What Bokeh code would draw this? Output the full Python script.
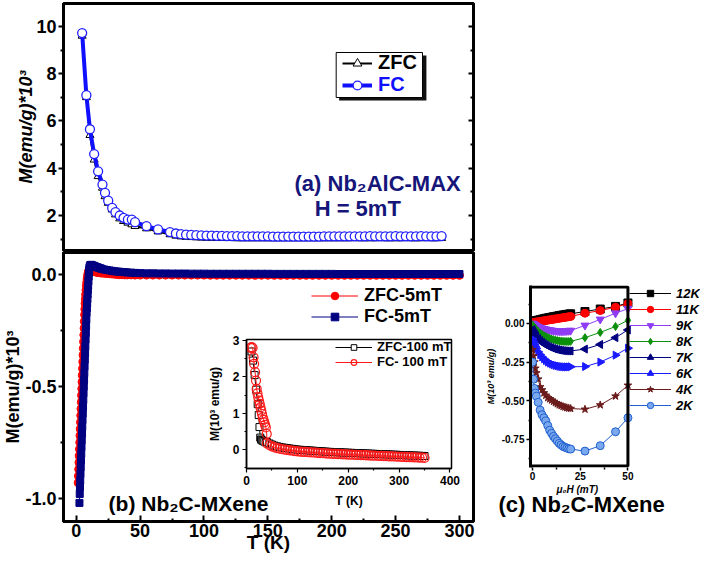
import numpy as np
from bokeh.plotting import figure
from bokeh.layouts import row, column
from bokeh.models import (Range1d, LinearAxis, FixedTicker, PrintfTickFormatter,
                          Legend, LegendItem, Label, BoxAnnotation, Title)
from bokeh.embed import file_html
from bokeh.resources import INLINE

FONT = "Liberation Sans"

# ---------------- data: panel (a) Nb2AlC-MAX, H = 5 mT ----------------
T_A = [4.6, 7.9, 10.7, 14.0, 17.1, 20.5, 22.5, 25.0, 28.1, 30.7,
       34.0, 37.0, 40.4, 43.5, 46.0, 55.0, 64.0, 73.4,
       78, 82, 86, 90, 94, 98, 102, 106, 110, 114,
       118, 122, 126, 130, 134, 138, 142, 146, 150, 154,
       158, 162, 166, 170, 174, 178, 182, 186, 190, 194,
       198, 202, 206, 210, 214, 218, 222, 226, 230, 234,
       238, 242, 246, 250, 254, 258, 262, 266, 270, 274,
       278, 282, 286]
FC_A = [9.72, 7.09, 5.65, 4.60, 3.87, 3.31, 2.96, 2.63, 2.32, 2.14,
        2.00, 1.90, 1.83, 1.83, 1.72, 1.55, 1.41, 1.30,
        1.24, 1.21, 1.19, 1.18, 1.17, 1.16, 1.15, 1.15, 1.14, 1.14,
        1.13, 1.13, 1.13, 1.12, 1.12, 1.12, 1.12, 1.12, 1.12, 1.11,
        1.11, 1.11, 1.11, 1.11, 1.11, 1.11, 1.11, 1.11, 1.11, 1.12,
        1.12, 1.12, 1.12, 1.12, 1.12, 1.12, 1.12, 1.12, 1.13, 1.12,
        1.12, 1.12, 1.12, 1.13, 1.12, 1.12, 1.12, 1.12, 1.13, 1.12,
        1.12, 1.12, 1.13]
ZFC_A = [9.60, 7.00, 5.40, 4.36, 3.66, 3.17, 2.81, 2.53, 2.25, 2.04,
         1.87, 1.76, 1.69, 1.62, 1.55, 1.45, 1.32, 1.20,
         1.14, 1.11, 1.09, 1.08, 1.07, 1.06, 1.05, 1.05, 1.04, 1.04,
         1.04, 1.04, 1.03, 1.03, 1.03, 1.03, 1.03, 1.03, 1.03, 1.03,
         1.03, 1.03, 1.03, 1.03, 1.03, 1.03, 1.03, 1.03, 1.03, 1.03,
         1.03, 1.03, 1.03, 1.03, 1.03, 1.04, 1.03, 1.03, 1.03, 1.03,
         1.04, 1.03, 1.03, 1.03, 1.03, 1.04, 1.03, 1.03, 1.03, 1.04,
         1.03, 1.03, 1.04]

# ---------------- data: panel (b) Nb2C-MXene, 5 mT ----------------
T_B_FC = [2.5, 2.7, 2.9, 3.1, 3.3, 3.5, 3.7, 3.9, 4.1, 4.3,
          4.5, 4.7, 4.9, 5.1, 5.3, 5.5, 5.7, 5.9, 6.1, 6.3,
          6.5, 6.7, 6.9, 7.1, 7.3, 7.5, 7.7, 7.9, 8.1, 8.3,
          8.5, 8.7, 8.9, 9.1, 9.3, 9.5, 9.7, 9.9, 10.1, 10.3,
          10.6, 11.0, 11.5, 12, 13, 14, 15, 16, 17, 18,
          19, 20, 22, 24, 26, 28, 30, 32, 34, 36,
          38, 40, 43, 46, 50]
M_B_FC = [-1.02, -0.98, -0.95, -0.92, -0.89, -0.86, -0.83, -0.80, -0.77, -0.74,
          -0.71, -0.68, -0.65, -0.62, -0.59, -0.56, -0.53, -0.50, -0.47, -0.44,
          -0.41, -0.38, -0.35, -0.32, -0.29, -0.26, -0.23, -0.20, -0.17, -0.15,
          -0.13, -0.11, -0.09, -0.07, -0.05, -0.03, -0.01, 0.005, 0.02, 0.03,
          0.038, 0.042, 0.043, 0.042, 0.040, 0.038, 0.035, 0.033, 0.031, 0.029,
          0.027, 0.025, 0.022, 0.020, 0.018, 0.016, 0.014, 0.013, 0.012, 0.011,
          0.010, 0.009, 0.008, 0.007, 0.006]
T_B_ZFC = [1.5, 1.7, 1.9, 2.1, 2.3, 2.5, 2.7, 2.9, 3.1, 3.3,
           3.5, 3.7, 3.9, 4.1, 4.3, 4.5, 4.7, 4.9, 5.1, 5.3,
           5.5, 5.7, 5.9, 6.1, 6.3, 6.5, 6.7, 6.9, 7.1, 7.3,
           7.6, 7.9, 8.2, 8.5, 8.8, 9.1, 9.4, 9.7, 10.1, 10.5,
           11.0, 11.6, 12.5, 13.5, 15, 16, 17, 18, 19, 20,
           22, 24, 26, 28, 30, 32, 34, 36, 38, 40,
           43, 46, 50]
M_B_ZFC = [-0.93, -0.90, -0.87, -0.84, -0.81, -0.78, -0.75, -0.72, -0.69, -0.66,
           -0.63, -0.60, -0.57, -0.54, -0.51, -0.48, -0.45, -0.42, -0.39, -0.36,
           -0.33, -0.30, -0.27, -0.24, -0.21, -0.18, -0.155, -0.13, -0.11, -0.09,
           -0.07, -0.05, -0.035, -0.02, -0.008, 0.002, 0.010, 0.015, 0.018, 0.019,
           0.018, 0.016, 0.015, 0.013, 0.011, 0.010, 0.009, 0.008, 0.007, 0.006,
           0.005, 0.004, 0.003, 0.002, 0.001, 0.000, -0.001, -0.001, -0.002, -0.002,
           -0.002, -0.003, -0.003]
T_B_TAIL = [55, 60, 65, 70, 75, 80, 85, 90, 95, 100,
            105, 110, 115, 120, 125, 130, 135, 140, 145, 150,
            155, 160, 165, 170, 175, 180, 185, 190, 195, 200,
            205, 210, 215, 220, 225, 230, 235, 240, 245, 250,
            255, 260, 265, 270, 275, 280, 285, 290, 295, 300]
M_B_FC_TAIL = [0.005, 0.005, 0.0045, 0.0045, 0.004, 0.004, 0.004, 0.0035, 0.0035, 0.0035,
               0.003, 0.003, 0.003, 0.003, 0.003, 0.003, 0.003, 0.003, 0.003, 0.003,
               0.0025, 0.0025, 0.0025, 0.0025, 0.0025, 0.0025, 0.0025, 0.0025, 0.0025, 0.0025,
               0.002, 0.002, 0.002, 0.002, 0.002, 0.002, 0.002, 0.002, 0.002, 0.002,
               0.002, 0.002, 0.002, 0.002, 0.002, 0.002, 0.002, 0.002, 0.002, 0.002]
M_B_ZFC_TAIL = [-0.003, -0.003, -0.003, -0.003, -0.003, -0.003, -0.003, -0.003, -0.003, -0.003,
                -0.0035, -0.0035, -0.0035, -0.0035, -0.0035, -0.0035, -0.0035, -0.0035, -0.0035, -0.0035,
                -0.004, -0.004, -0.004, -0.004, -0.004, -0.004, -0.004, -0.004, -0.004, -0.004,
                -0.004, -0.004, -0.004, -0.004, -0.004, -0.004, -0.004, -0.004, -0.004, -0.004,
                -0.004, -0.004, -0.004, -0.004, -0.004, -0.004, -0.004, -0.004, -0.004, -0.004]

# ---------------- data: inset of (b), 100 mT ----------------
T_IN_FC_LOW = [8, 10, 12, 13.9, 15, 16.9, 18.7, 20, 21.5, 23,
               24.5, 26, 27.5, 29, 30.5, 32, 33.5, 35, 36.5, 38, 39.8]
M_IN_FC_LOW = [2.80, 2.82, 2.80, 2.54, 2.36, 2.13, 1.90, 1.67, 1.55, 1.44,
               1.35, 1.26, 1.16, 1.07, 0.98, 0.89, 0.82, 0.75, 0.68, 0.61, 0.43]
T_IN_ZFC_LOW = [10, 13, 16, 19, 22, 24, 25.5, 27, 28.5, 30, 32, 35, 38]
M_IN_ZFC_LOW = [2.70, 2.45, 2.05, 1.65, 1.25, 0.95, 0.62, 0.33, 0.28, 0.26, 0.24, 0.22, 0.20]
T_IN_TAIL = [40, 45, 50, 55, 60, 65, 70, 75, 80, 85,
             90, 95, 100, 105, 110, 115, 120, 125, 130, 135,
             140, 145, 150, 155, 160, 165, 170, 175, 180, 185,
             190, 195, 200, 205, 210, 215, 220, 225, 230, 235,
             240, 245, 250, 255, 260, 265, 270, 275, 280, 285,
             290, 295, 300, 305, 310, 315, 320, 325, 330, 335,
             340, 345, 350]
M_IN_FC_TAIL = [0.17, 0.12, 0.09, 0.06, 0.04, 0.025, 0.01, 0.0, -0.01, -0.02,
                -0.03, -0.04, -0.05, -0.055, -0.06, -0.065, -0.07, -0.075, -0.08, -0.085,
                -0.09, -0.095, -0.10, -0.105, -0.11, -0.113, -0.116, -0.12, -0.123, -0.126,
                -0.13, -0.133, -0.136, -0.139, -0.142, -0.145, -0.148, -0.151, -0.154, -0.157,
                -0.16, -0.163, -0.166, -0.169, -0.172, -0.175, -0.178, -0.181, -0.184, -0.187,
                -0.19, -0.193, -0.196, -0.199, -0.202, -0.205, -0.208, -0.211, -0.214, -0.217,
                -0.22, -0.223, -0.226]
M_IN_ZFC_TAIL = [0.21, 0.17, 0.14, 0.11, 0.09, 0.075, 0.06, 0.05, 0.04, 0.03,
                 0.02, 0.01, 0.0, -0.005, -0.01, -0.015, -0.02, -0.025, -0.03, -0.035,
                 -0.04, -0.045, -0.05, -0.055, -0.06, -0.063, -0.066, -0.07, -0.073, -0.076,
                 -0.08, -0.083, -0.086, -0.089, -0.092, -0.095, -0.098, -0.101, -0.104, -0.107,
                 -0.11, -0.113, -0.116, -0.119, -0.122, -0.125, -0.128, -0.131, -0.134, -0.137,
                 -0.14, -0.143, -0.146, -0.149, -0.152, -0.155, -0.158, -0.161, -0.164, -0.167,
                 -0.17, -0.173, -0.176]

# ---------------- data: panel (c) M(H) ----------------
H_C = [0, 0.5, 1, 1.5, 2, 3, 4, 5, 6, 7, 8, 9, 10, 11, 12, 13, 14, 15, 16, 17, 18, 19, 20,
       27.5, 35.5, 43.5, 50]
M_12K = [0.010, 0.012, 0.014, 0.016, 0.018, 0.021, 0.024, 0.027, 0.030, 0.033, 0.035, 0.038,
         0.040, 0.043, 0.045, 0.047, 0.050, 0.052, 0.054, 0.056, 0.058, 0.060, 0.062,
         0.077, 0.093, 0.110, 0.132]
M_11K = [0.005, 0.006, 0.007, 0.008, 0.009, 0.011, 0.013, 0.015, 0.017, 0.019, 0.021, 0.023,
         0.025, 0.027, 0.029, 0.031, 0.033, 0.035, 0.037, 0.039, 0.041, 0.043, 0.045,
         0.066, 0.083, 0.104, 0.128]
M_9K = [0.000, -0.004, -0.008, -0.012, -0.016, -0.022, -0.027, -0.031, -0.035, -0.038, -0.041,
        -0.043, -0.045, -0.047, -0.048, -0.049, -0.050, -0.050, -0.050, -0.049, -0.048, -0.047,
        -0.046, -0.013, 0.026, 0.066, 0.095]
M_8K = [-0.010, -0.018, -0.026, -0.033, -0.040, -0.052, -0.062, -0.071, -0.079, -0.086, -0.092,
        -0.097, -0.101, -0.105, -0.108, -0.111, -0.113, -0.115, -0.116, -0.117, -0.117, -0.117,
        -0.116, -0.092, -0.058, -0.020, 0.020]
M_7K = [-0.040, -0.052, -0.063, -0.073, -0.082, -0.097, -0.110, -0.121, -0.131, -0.139, -0.146,
        -0.152, -0.157, -0.162, -0.166, -0.169, -0.172, -0.174, -0.176, -0.177, -0.178, -0.178,
        -0.178, -0.166, -0.136, -0.092, -0.042]
M_6K = [-0.100, -0.118, -0.134, -0.149, -0.162, -0.184, -0.202, -0.217, -0.229, -0.240, -0.249,
        -0.256, -0.262, -0.267, -0.271, -0.274, -0.277, -0.279, -0.280, -0.281, -0.281, -0.281,
        -0.280, -0.279, -0.250, -0.205, -0.160]
M_4K = [-0.170, -0.210, -0.250, -0.290, -0.320, -0.360, -0.410, -0.430, -0.450, -0.465, -0.480,
        -0.488, -0.496, -0.505, -0.513, -0.520, -0.527, -0.532, -0.537, -0.541, -0.545, -0.548,
        -0.550, -0.555, -0.527, -0.470, -0.400]
M_2K = [-0.250, -0.360, -0.420, -0.450, -0.470, -0.510, -0.560, -0.590, -0.610, -0.630, -0.660,
        -0.690, -0.710, -0.730, -0.745, -0.760, -0.775, -0.785, -0.795, -0.800, -0.805, -0.810,
        -0.812, -0.825, -0.790, -0.700, -0.610]
LABELS_C = ["12K", "11K", "9K", "8K", "7K", "6K", "4K", "2K"]
SERIES_C = [M_12K, M_11K, M_9K, M_8K, M_7K, M_6K, M_4K, M_2K]

# ---------------- ticks ----------------
TICKS_T = [0, 50, 100, 150, 200, 250, 300]
MINOR_T = [25, 75, 125, 175, 225, 275]
TICKS_A = [2, 4, 6, 8, 10]
MINOR_A = [1, 3, 5, 7, 9]
TICKS_B = [-1.0, -0.5, 0.0]
MINOR_B = [-0.75, -0.25]
TICKS_IX = [0, 100, 200, 300, 400]
MINOR_IX = [50, 150, 250, 350]
TICKS_IY = [0, 1, 2, 3]
MINOR_IY = [-0.5, 0.5, 1.5, 2.5]
TICKS_CX = [0, 25, 50]
MINOR_CX = [12.5, 37.5]
TICKS_CY = [-0.75, -0.5, -0.25, 0.0]
MINOR_CY = [-0.875, -0.625, -0.375, -0.125, 0.125]

# ---------------- geometry (page pixels; Bokeh's page has no body margin) ----------------
FRAME_A = (62, 3, 480, 250)
FRAME_B = (62, 252, 480, 521)
FRAME_I = (229, 339, 451, 468)
BOX_C = (529, 285, 627, 467)           # visible box of panel (c)
FRAME_C = (529, 285, 700, 467)         # drawing area incl. legend strip on the right
CANVAS_A = (0, 0, 482, 251)
CANVAS_B = (0, 251, 482, 556)
CANVAS_I = (183, 330, 460, 512)
CANVAS_C = (482, 251, 700, 556)
XR_AB = (-10, 311)
YR_A = (0.52, 10.97)
YR_B = (-1.103, 0.098)
XR_I = (0, 403)
YR_I = (-0.52, 3.03)
XR_C = (-1.04, 50.0)
YR_C = (-0.931, 0.245)
XR_C_WIDE = (XR_C[0], XR_C[0] + (FRAME_C[2] - FRAME_C[0]) / (BOX_C[2] - BOX_C[0])
             * (XR_C[1] - XR_C[0]))

NAVY_TXT = "#16167a"


def to_data(frame, xr, yr, px, py):
    l, t, r, b = frame
    x = xr[0] + (px - l) / (r - l) * (xr[1] - xr[0])
    y = yr[1] - (py - t) / (b - t) * (yr[1] - yr[0])
    return x, y


def make_fig(canvas, frame, x_range, y_range, **kw):
    cl, ct, cr, cb = canvas
    fl, ft, fr, fb = frame
    p = figure(width=cr - cl, height=cb - ct, x_range=x_range, y_range=y_range,
               output_backend="svg", toolbar_location=None,
               min_border_left=fl - cl, min_border_right=cr - fr,
               min_border_top=ft - ct, min_border_bottom=cb - fb, **kw)
    p.xgrid.visible = False
    p.ygrid.visible = False
    p.background_fill_color = "white"
    p.outline_line_color = "black"
    p.outline_line_alpha = 1
    return p


def style_axis(ax, ticks, minor, size, lw=3, tin=0, tout=5, min_in=0, min_out=3,
               standoff=2, label=None, label_size=None, label_style="bold",
               label_standoff=0, tick_w=2):
    ax.ticker = FixedTicker(ticks=ticks, minor_ticks=minor)
    ax.axis_line_width = lw
    ax.axis_line_color = "black"
    ax.major_tick_line_width = tick_w
    ax.minor_tick_line_width = tick_w
    ax.major_tick_line_color = "black"
    ax.minor_tick_line_color = "black"
    ax.major_tick_in = tin
    ax.major_tick_out = tout
    ax.minor_tick_in = min_in
    ax.minor_tick_out = min_out
    ax.major_label_text_font = FONT
    ax.major_label_text_font_size = f"{size}px"
    ax.major_label_text_font_style = "bold"
    ax.major_label_text_color = "black"
    ax.major_label_standoff = standoff
    if label is not None:
        ax.axis_label = label
        ax.axis_label_text_font = FONT
        ax.axis_label_text_font_size = f"{label_size or size}px"
        ax.axis_label_text_font_style = label_style
        ax.axis_label_text_color = "black"
        ax.axis_label_standoff = label_standoff


def make_legend(items, loc, size, gw, row_h, standoff, style="bold", color="black"):
    return Legend(items=items, location=loc, padding=0, margin=0, spacing=0,
                  glyph_width=gw, glyph_height=row_h, label_height=row_h,
                  label_standoff=standoff, label_text_font=FONT,
                  label_text_font_size=f"{size}px", label_text_font_style=style,
                  label_text_color=color, background_fill_alpha=0,
                  border_line_alpha=0)


x_ab = Range1d(*XR_AB)

# ================= panel (a) =================
pa = make_fig(CANVAS_A, FRAME_A, x_ab, Range1d(*YR_A), x_axis_location=None)
pa.outline_line_width = 3
style_axis(pa.yaxis[0], TICKS_A, MINOR_A, 18, label="M(emu/g)*10³", label_size=18,
           label_style="bold italic", label_standoff=-3)
ra = LinearAxis()
style_axis(ra, TICKS_A, MINOR_A, 10, tin=5, tout=0, min_in=3, min_out=0, standoff=0)
ra.major_label_overrides = {t: "" for t in TICKS_A}
pa.add_layout(ra, "right")

ra_zl = pa.line(T_A, ZFC_A, line_color="black", line_width=2)
ra_zp = pa.scatter(T_A, ZFC_A, marker="triangle", size=8, fill_color="white",
                   line_color="black", line_width=1)
ra_fl = pa.line(T_A, FC_A, line_color="#1010ff", line_width=4)
ra_fp = pa.scatter(T_A, FC_A, marker="circle", size=9, fill_color="white",
                   line_color="#2020ff", line_width=1.3)


def xa(px):
    return to_data(FRAME_A, XR_AB, YR_A, px, 0)[0]


def ya(py):
    return to_data(FRAME_A, XR_AB, YR_A, 0, py)[1]


pa.add_layout(BoxAnnotation(left=xa(343), right=xa(432), top=ya(55), bottom=ya(100),
                            fill_color="#111111", fill_alpha=1, line_alpha=0))
pa.add_layout(BoxAnnotation(left=xa(340), right=xa(428), top=ya(52), bottom=ya(97),
                            fill_color="white", fill_alpha=1, line_color="black",
                            line_width=1, line_alpha=1))
pa.add_layout(make_legend([LegendItem(label="ZFC", renderers=[ra_zl, ra_zp])],
                          (279, 176), 20, 30, 22, 6, color="black"))
pa.add_layout(make_legend([LegendItem(label="FC", renderers=[ra_fl, ra_fp])],
                          (279, 154), 20, 30, 22, 6, color="#1010ff"))
pa.add_layout(Label(x=xa(467), y=ya(183), text="(a) Nb₂AlC-MAX", text_align="right",
                    text_baseline="middle", text_font=FONT, text_font_size="22px",
                    text_font_style="bold", text_color=NAVY_TXT))
pa.add_layout(Label(x=xa(362), y=ya(208), text="H = 5mT", text_align="center",
                    text_baseline="middle", text_font=FONT, text_font_size="22px",
                    text_font_style="bold", text_color=NAVY_TXT))

# ================= panel (b) =================
pb = make_fig(CANVAS_B, FRAME_B, x_ab, Range1d(*YR_B))
pb.outline_line_width = 3
style_axis(pb.xaxis[0], TICKS_T, MINOR_T, 18, tin=6, tout=0, min_in=3, min_out=0,
           standoff=2, label="T (K)", label_size=19, label_standoff=-8)
style_axis(pb.yaxis[0], TICKS_B, MINOR_B, 18, label="M(emu/g)*10³", label_size=18,
           label_standoff=-1)
pb.yaxis[0].formatter = PrintfTickFormatter(format="%.1f")

TB_Z = T_B_ZFC + T_B_TAIL
MB_Z = M_B_ZFC + M_B_ZFC_TAIL
TB_F = T_B_FC + T_B_TAIL
MB_F = M_B_FC + M_B_FC_TAIL
rb_zl = pb.line(TB_Z, MB_Z, line_color="#ff0000", line_width=1)
rb_zp = pb.scatter(TB_Z, MB_Z, marker="circle", size=8, fill_color="#ff0000",
                   line_color="#ff0000")
rb_fl = pb.line(TB_F, MB_F, line_color="#000080", line_width=1)
rb_fp = pb.scatter(TB_F, MB_F, marker="square", size=7, fill_color="#000080",
                   line_color="#000080")
pb.add_layout(make_legend([LegendItem(label="ZFC-5mT", renderers=[rb_zl, rb_zp]),
                           LegendItem(label="FC-5mT", renderers=[rb_fl, rb_fp])],
                          (248, 194), 18, 47, 19, 6))
bx, by = to_data(FRAME_B, XR_AB, YR_B, 108, 503)
pb.add_layout(Label(x=bx, y=by, text="(b) Nb₂C-MXene", text_align="left",
                    text_baseline="middle", text_font=FONT, text_font_size="21px",
                    text_font_style="bold", text_color="black"))

# ================= inset of (b) =================
pin = make_fig(CANVAS_I, FRAME_I, Range1d(*XR_I), Range1d(*YR_I))
pin.outline_line_width = 1.5
pin.border_fill_alpha = 0
style_axis(pin.xaxis[0], TICKS_IX, MINOR_IX, 12, lw=1.5, tin=0, tout=4, min_in=0,
           min_out=2, standoff=3, label="T (K)", label_size=12, label_standoff=6,
           tick_w=1.2)
style_axis(pin.yaxis[0], TICKS_IY, MINOR_IY, 12, lw=1.5, tin=0, tout=4, min_in=0,
           min_out=2, standoff=3, label="M(10³ emu/g)", label_size=12,
           label_standoff=8, tick_w=1.2)

TI_Z = T_IN_ZFC_LOW + T_IN_TAIL
MI_Z = M_IN_ZFC_LOW + M_IN_ZFC_TAIL
TI_F = T_IN_FC_LOW + T_IN_TAIL
MI_F = M_IN_FC_LOW + M_IN_FC_TAIL
ri_zl = pin.line(TI_Z, MI_Z, line_color="black", line_width=1)
ri_zp = pin.scatter(TI_Z, MI_Z, marker="square", size=7, fill_color="white",
                    line_color="black", line_width=1)
ri_fl = pin.line(TI_F, MI_F, line_color="#ff1a1a", line_width=1)
ri_fp = pin.scatter(TI_F, MI_F, marker="circle", size=9, fill_color="white",
                    fill_alpha=0, line_color="#ff1a1a", line_width=1.2)
pin.add_layout(make_legend([LegendItem(label="ZFC-100 mT", renderers=[ri_zl, ri_zp]),
                            LegendItem(label="FC- 100 mT", renderers=[ri_fl, ri_fp])],
                           (89, 99), 13, 37, 14, 5))

# ================= panel (c) =================
pc = make_fig(CANVAS_C, FRAME_C, Range1d(*XR_C_WIDE), Range1d(*YR_C))
pc.outline_line_color = None
style_axis(pc.xaxis[0], TICKS_CX, MINOR_CX, 10, lw=3, tin=0, tout=3, min_in=0,
           min_out=2, standoff=1, tick_w=1.5)
pc.xaxis[0].axis_line_color = None
style_axis(pc.yaxis[0], TICKS_CY, MINOR_CY, 10, lw=3, tin=0, tout=4, min_in=0,
           min_out=2, standoff=2, label="M(10³ emu/g)", label_size=9,
           label_style="bold italic", label_standoff=3, tick_w=1.5)
pc.yaxis[0].formatter = PrintfTickFormatter(format="%.2f")

# visible frame of panel (c)
cl_, ct_ = to_data(FRAME_C, XR_C_WIDE, YR_C, BOX_C[0], BOX_C[1] + 1.5)
cr_, cb_ = to_data(FRAME_C, XR_C_WIDE, YR_C, BOX_C[2], BOX_C[3] - 1.5)
pc.add_layout(BoxAnnotation(left=cl_, right=cr_, top=ct_, bottom=cb_, fill_alpha=0,
                            line_color="black", line_width=3, line_alpha=1))

STYLE_C = [
    dict(color="#000000", marker="square", fill="#000000", angle=0.0),
    dict(color="#ff0000", marker="circle", fill="#ff0000", angle=0.0),
    dict(color="#8f3df5", marker="inverted_triangle", fill="#8f3df5", angle=0.0),
    dict(color="#0a900a", marker="diamond", fill="#0a900a", angle=0.0),
    dict(color="#000080", marker="triangle", fill="#000080", angle=np.pi / 2),
    dict(color="#1a1aff", marker="triangle", fill="#1a1aff", angle=-np.pi / 2),
    dict(color="#6b1b1b", marker="star", fill="#6b1b1b", angle=0.0),
    dict(color="#1f5fd0", marker="circle", fill="#7aa8ee", angle=0.0),
]
items_c = []
for lab, vals, st in zip(LABELS_C, SERIES_C, STYLE_C):
    rl = pc.line(H_C, vals, line_color=st["color"], line_width=1)
    rp = pc.scatter(H_C, vals, marker=st["marker"], size=8, fill_color=st["fill"],
                    line_color=st["color"], line_width=1, angle=st["angle"])
    items_c.append(LegendItem(label=lab, renderers=[rl, rp]))
pc.add_layout(make_legend(items_c, (BOX_C[2] + 1 - FRAME_C[0], FRAME_C[3] - 413),
                          13, 42, 16, 5, style="bold italic"))
pc.add_layout(Title(text="μ₀H (mT)", align="left", offset=26, standoff=-2,
                    text_font=FONT, text_font_size="10px", text_font_style="bold italic",
                    text_color="black"), "below")
pc.add_layout(Title(text="(c) Nb₂C-MXene", align="left", offset=-32, standoff=-7,
                    text_font=FONT, text_font_size="22px", text_font_style="bold",
                    text_color="black"), "below")

# ================= layout =================
pin.margin = (CANVAS_I[1] - CANVAS_B[3], 0, 0, CANVAS_I[0] - CANVAS_B[0])
pc.margin = (CANVAS_C[1] - CANVAS_A[1], 0, 0, 0)
left = column(pa, pb, pin, spacing=0)
root = row(left, pc, spacing=0)

open("out.html", "w").write(file_html(root, INLINE))
